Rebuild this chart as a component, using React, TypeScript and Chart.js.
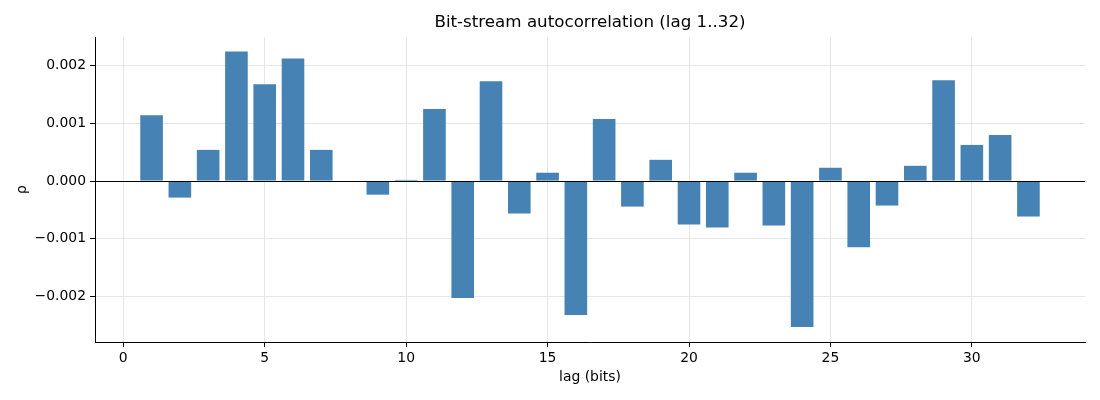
import React, { useEffect, useRef } from "react";
import { Chart, registerables } from "chart.js";

Chart.register(...registerables);

const lags: number[] = Array.from({ length: 32 }, (_, i) => i + 1);
const rho: number[] = [
  0.00114, -0.000287, 0.00054, 0.002247, 0.001678, 0.002126, 0.00054, 0.0,
  -0.000236, 0.00002, 0.001247, -0.002029, 0.00173, -0.000563, 0.000144, -0.002322,
  0.001075, -0.000443, 0.000368, -0.000753, -0.000805, 0.000144, -0.00077, -0.002529,
  0.00023, -0.001149, -0.000425, 0.000264, 0.001747, 0.000626, 0.000799, -0.000615,
];
const xTicks: number[] = [0, 5, 10, 15, 20, 25, 30];
const yTicks: number[] = [-0.002, -0.001, 0, 0.001, 0.002];
const titleText = "Bit-stream autocorrelation (lag 1..32)";
const xLabel = "lag (bits)";
const yLabel = "ρ";

const FONT = "'DejaVu Sans', sans-serif";

const zeroLine = {
  id: "zeroLine",
  afterDatasetsDraw(chart: any) {
    const { ctx, chartArea, scales } = chart;
    const y = Math.round(scales.y.getPixelForValue(0)) + 0.5;
    ctx.save();
    ctx.strokeStyle = "#000";
    ctx.lineWidth = 1;
    ctx.beginPath();
    ctx.moveTo(chartArea.left, y);
    ctx.lineTo(chartArea.right, y);
    ctx.stroke();
    ctx.restore();
  },
};

export default function App() {
  const ref = useRef<HTMLCanvasElement | null>(null);
  useEffect(() => {
    document.body.style.margin = "0";
    if (!ref.current) return;
    const chart = new Chart(ref.current, {
      type: "bar",
      data: {
        datasets: [
          {
            data: lags.map((x, i) => ({ x, y: rho[i] })),
            backgroundColor: "#4682B4",
            borderWidth: 0,
            barPercentage: 0.8,
            categoryPercentage: 1,
          },
        ],
      },
      options: {
        animation: false,
        responsive: false,
        devicePixelRatio: 1,
        layout: { padding: { left: 0, right: 15, top: 0, bottom: 0 } },
        plugins: {
          legend: { display: false },
          tooltip: { enabled: false },
          title: {
            display: true,
            text: titleText,
            fullSize: false,
            color: "#000",
            font: { family: FONT, size: 16.7, weight: "normal" },
            padding: { top: 13, bottom: 4 },
          },
        },
        scales: {
          x: {
            type: "linear",
            min: -1,
            max: 34,
            offset: false,
            grid: {
              offset: false,
              color: "#e6e6e6",
              lineWidth: 1,
              tickColor: "#000",
              tickLength: 5,
            },
            border: { display: true, color: "#000", width: 1 },
            ticks: {
              color: "#000",
              padding: 3,
              font: { family: FONT, size: 13.9 },
              callback: (v: any) => String(v),
            },
            afterBuildTicks: (s: any) => {
              s.ticks = xTicks.map((value) => ({ value }));
            },
            title: {
              display: true,
              text: xLabel,
              color: "#000",
              font: { family: FONT, size: 13.9 },
              padding: { top: 0, bottom: 14 },
            },
            afterFit: (s: any) => {
              s.height = 58;
            },
          },
          y: {
            min: -0.00279,
            max: 0.002496,
            grid: {
              color: "#e6e6e6",
              lineWidth: 1,
              tickColor: "#000",
              tickLength: 5,
            },
            border: { display: true, color: "#000", width: 1 },
            ticks: {
              color: "#000",
              padding: 4,
              font: { family: FONT, size: 13.9 },
              callback: (v: any) => {
                const n = Number(v);
                if (Math.abs(n) < 1e-9) return "0.000";
                return (n < 0 ? "\u2212" : "") + Math.abs(n).toFixed(3);
              },
            },
            afterBuildTicks: (s: any) => {
              s.ticks = yTicks.map((value) => ({ value }));
            },
            title: {
              display: true,
              text: yLabel,
              color: "#000",
              font: { family: FONT, size: 13.9 },
              padding: { top: 14, bottom: 0 },
            },
            afterFit: (s: any) => {
              s.width = 95;
            },
          },
        },
      },
      plugins: [zeroLine],
    });
    return () => chart.destroy();
  }, []);
  return (
    <div style={{ position: "absolute", left: 0, top: 0, width: 1100, height: 400 }}>
      <canvas ref={ref} width={1100} height={400} />
    </div>
  );
}
